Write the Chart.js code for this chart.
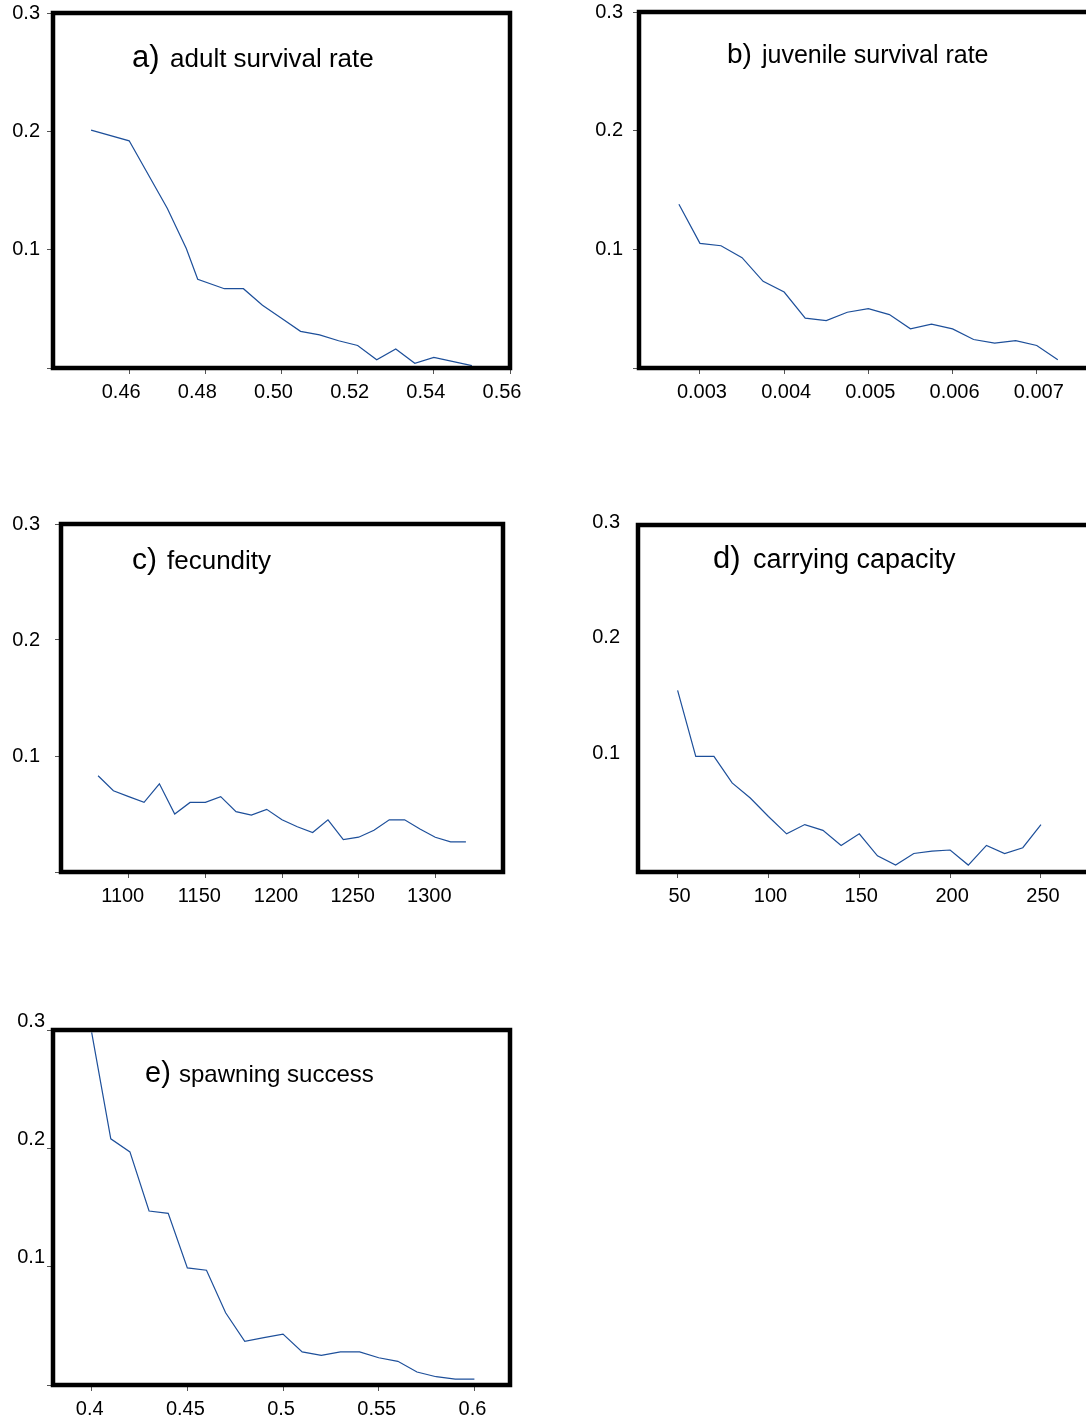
<!DOCTYPE html>
<html>
<head>
<meta charset="utf-8">
<script src="https://cdn.jsdelivr.net/npm/chart.js@4.4.1/dist/chart.umd.min.js"></script>
<style>
  html, body { margin: 0; padding: 0; background: #fff; }
  #page { position: relative; width: 1086px; height: 1418px; overflow: hidden; background: #fff; }
  #page canvas { position: absolute; }
</style>
</head>
<body>
<div id="page">
  <canvas id="adultChart"></canvas>
  <canvas id="juvenileChart"></canvas>
  <canvas id="fecundityChart"></canvas>
  <canvas id="capacityChart"></canvas>
  <canvas id="spawningChart"></canvas>
</div>
<script>
// a) adult survival rate
let adultX = [0.45, 0.46, 0.47, 0.475, 0.478, 0.485, 0.49, 0.495, 0.50, 0.505, 0.51, 0.515, 0.52, 0.525, 0.53, 0.535, 0.54, 0.55];
let adultY = [0.201, 0.192, 0.135, 0.101, 0.075, 0.067, 0.067, 0.053, 0.042, 0.031, 0.028, 0.023, 0.019, 0.007, 0.016, 0.004, 0.009, 0.002];
let adultTicks = [0.46, 0.48, 0.50, 0.52, 0.54, 0.56];
let adultTickLabels = ["0.46", "0.48", "0.50", "0.52", "0.54", "0.56"];

// b) juvenile survival rate
let juvX = [0.00275, 0.003, 0.00325, 0.0035, 0.00375, 0.004, 0.00425, 0.0045, 0.00475, 0.005, 0.00525, 0.0055, 0.00575, 0.006, 0.00625, 0.0065, 0.00675, 0.007, 0.00725];
let juvY = [0.138, 0.105, 0.103, 0.093, 0.073, 0.064, 0.042, 0.040, 0.047, 0.050, 0.045, 0.033, 0.037, 0.033, 0.024, 0.021, 0.023, 0.019, 0.007];
let juvTicks = [0.003, 0.004, 0.005, 0.006, 0.007];
let juvTickLabels = ["0.003", "0.004", "0.005", "0.006", "0.007"];

// c) fecundity
let fecX = [1080, 1090, 1100, 1110, 1120, 1130, 1140, 1150, 1160, 1170, 1180, 1190, 1200, 1210, 1220, 1230, 1240, 1250, 1260, 1270, 1280, 1290, 1300, 1310, 1320];
let fecY = [0.083, 0.070, 0.065, 0.060, 0.076, 0.050, 0.060, 0.060, 0.065, 0.052, 0.049, 0.054, 0.045, 0.039, 0.034, 0.045, 0.028, 0.030, 0.036, 0.045, 0.045, 0.037, 0.030, 0.026, 0.026];
let fecTicks = [1100, 1150, 1200, 1250, 1300];
let fecTickLabels = ["1100", "1150", "1200", "1250", "1300"];

// d) carrying capacity
let capX = [50, 60, 70, 80, 90, 100, 110, 120, 130, 140, 150, 160, 170, 180, 190, 200, 210, 220, 230, 240, 250];
let capY = [0.157, 0.100, 0.100, 0.077, 0.064, 0.048, 0.033, 0.041, 0.036, 0.023, 0.033, 0.014, 0.006, 0.016, 0.018, 0.019, 0.006, 0.023, 0.016, 0.021, 0.041];
let capTicks = [50, 100, 150, 200, 250];
let capTickLabels = ["50", "100", "150", "200", "250"];

// e) spawning success
let spawnX = [0.40, 0.41, 0.42, 0.43, 0.44, 0.45, 0.46, 0.47, 0.48, 0.49, 0.50, 0.51, 0.52, 0.53, 0.54, 0.55, 0.56, 0.57, 0.58, 0.59, 0.60];
let spawnY = [0.298, 0.208, 0.197, 0.147, 0.145, 0.099, 0.097, 0.061, 0.037, 0.040, 0.043, 0.028, 0.025, 0.028, 0.028, 0.023, 0.020, 0.011, 0.007, 0.005, 0.005];
let spawnTicks = [0.4, 0.45, 0.5, 0.55, 0.6];
let spawnTickLabels = ["0.4", "0.45", "0.5", "0.55", "0.6"];

// shared y axis
let yTicks = [0, 0.1, 0.2, 0.3];
let yTickLabels = ["", "0.1", "0.2", "0.3"];

const FONT = "'Liberation Sans', Arial, sans-serif";
const LINE_COLOR = "#1d4f9a";

// thick black box around the plot area
const framePlugin = {
    id: "frame",
    afterDraw(chart) {
        let a = chart.chartArea;
        let ctx = chart.ctx;
        ctx.save();
        ctx.strokeStyle = "#000";
        ctx.lineWidth = 4.5;
        ctx.strokeRect(a.left, a.top, a.right - a.left, a.bottom - a.top);
        ctx.restore();
    }
};

// "a) adult survival rate" style heading inside the box
const titlePlugin = {
    id: "panelTitle",
    afterDraw(chart, args, opts) {
        let a = chart.chartArea;
        let ctx = chart.ctx;
        ctx.save();
        ctx.fillStyle = "#000";
        ctx.textBaseline = "alphabetic";
        ctx.textAlign = "left";
        ctx.font = opts.letterSize + "px " + FONT;
        ctx.fillText(opts.letter, a.left + opts.letterX, a.top + opts.baseline);
        ctx.font = opts.nameSize + "px " + FONT;
        ctx.fillText(opts.name, a.left + opts.nameX, a.top + opts.baseline);
        ctx.restore();
    }
};

function makePanel(id, box, xs, ys, xTicks, xLabels, xMin, xMax, p) {
    const padL = 60, padT = 22, padR = 30, padB = 50;
    let canvas = document.getElementById(id);
    let w = box.right - box.left + padL + padR;
    let h = box.bottom - box.top + padT + padB;
    canvas.width = w;
    canvas.height = h;
    canvas.style.width = w + "px";
    canvas.style.height = h + "px";
    canvas.style.left = (box.left - padL) + "px";
    canvas.style.top = (box.top - padT) + "px";

    let points = [];
    for (let i = 0; i < xs.length; i++) {
        points.push({ x: xs[i], y: ys[i] });
    }

    return new Chart(canvas, {
        type: "line",
        data: {
            datasets: [{
                data: points,
                borderColor: LINE_COLOR,
                borderWidth: 1.2,
                pointRadius: 0,
                tension: 0,
                fill: false
            }]
        },
        options: {
            responsive: false,
            animation: false,
            devicePixelRatio: 1,
            layout: { padding: { left: 0, top: padT, right: padR, bottom: 0 } },
            plugins: {
                legend: { display: false },
                tooltip: { enabled: false },
                panelTitle: p.title
            },
            scales: {
                x: {
                    type: "linear",
                    min: xMin,
                    max: xMax,
                    afterBuildTicks: s => { s.ticks = xTicks.map(v => ({ value: v })); },
                    afterFit: s => { s.height = padB; },
                    border: { display: false },
                    grid: { drawOnChartArea: false, drawTicks: true, tickLength: 6, color: "#555", lineWidth: 1 },
                    ticks: {
                        autoSkip: false,
                        maxRotation: 0,
                        padding: 6,
                        labelOffset: p.xLabelOffset,
                        color: "#000",
                        font: { family: FONT, size: 20 },
                        callback: (v, i) => xLabels[i]
                    }
                },
                y: {
                    type: "linear",
                    min: 0,
                    max: 0.3,
                    afterBuildTicks: s => { s.ticks = yTicks.map(v => ({ value: v })); },
                    afterFit: s => { s.width = padL; },
                    border: { display: false },
                    grid: {
                        display: p.yTickMarks,
                        drawOnChartArea: false,
                        drawTicks: p.yTickMarks,
                        tickLength: 6,
                        color: "#555",
                        lineWidth: 1
                    },
                    ticks: {
                        padding: p.yPadding,
                        labelOffset: p.yLabelOffset,
                        color: "#000",
                        font: { family: FONT, size: 20 },
                        callback: (v, i) => yTickLabels[i]
                    }
                }
            }
        },
        plugins: [framePlugin, titlePlugin]
    });
}

makePanel("adultChart", { left: 53, top: 13, right: 510, bottom: 368 },
    adultX, adultY, adultTicks, adultTickLabels, 0.44, 0.56, {
        xLabelOffset: -8, yLabelOffset: 0, yPadding: 7, yTickMarks: true,
        title: { letter: "a)", name: "adult survival rate", letterSize: 31, nameSize: 26, letterX: 79, nameX: 117, baseline: 54 }
    });

makePanel("juvenileChart", { left: 639, top: 12, right: 1110, bottom: 368 },
    juvX, juvY, juvTicks, juvTickLabels, 0.002276, 0.00787, {
        xLabelOffset: 2, yLabelOffset: 0, yPadding: 10, yTickMarks: true,
        title: { letter: "b)", name: "juvenile survival rate", letterSize: 28, nameSize: 25, letterX: 88, nameX: 123, baseline: 51 }
    });

makePanel("fecundityChart", { left: 61, top: 519, right: 503, bottom: 872 },
    fecX, fecY, fecTicks, fecTickLabels, 1055.8, 1344.2, {
        xLabelOffset: -6, yLabelOffset: 0, yPadding: 15, yTickMarks: true,
        title: { letter: "c)", name: "fecundity", letterSize: 30, nameSize: 26, letterX: 71, nameX: 106, baseline: 45 }
    });

makePanel("capacityChart", { left: 638, top: 517, right: 1110, bottom: 872 },
    capX, capY, capTicks, capTickLabels, 28.2, 288, {
        xLabelOffset: 2, yLabelOffset: -3, yPadding: 18, yTickMarks: false,
        title: { letter: "d)", name: "carrying capacity", letterSize: 31, nameSize: 27, letterX: 75, nameX: 115, baseline: 43 }
    });

makePanel("spawningChart", { left: 53, top: 1030, right: 510, bottom: 1385 },
    spawnX, spawnY, spawnTicks, spawnTickLabels, 0.3798, 0.6186, {
        xLabelOffset: -2, yLabelOffset: -9, yPadding: 2, yTickMarks: true,
        title: { letter: "e)", name: "spawning success", letterSize: 29, nameSize: 24, letterX: 92, nameX: 126, baseline: 52 }
    });
</script>
</body>
</html>
